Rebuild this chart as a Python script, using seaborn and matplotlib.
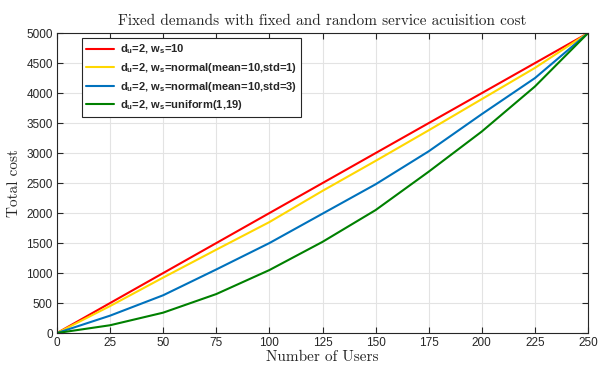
import seaborn as sns
import matplotlib.pyplot as plt
import pandas as pd

# values
users = [0, 25, 50, 75, 100, 125, 150, 175, 200, 225, 250]
cost_fixed = [0, 500, 1000, 1500, 2000, 2500, 3000, 3500, 4000, 4500, 5000]
cost_normal_std1 = [0, 450, 925, 1390, 1850, 2370, 2870, 3380, 3900, 4420, 5000]
cost_normal_std3 = [0, 290, 630, 1060, 1500, 1990, 2480, 3030, 3650, 4250, 5000]
cost_uniform = [0, 130, 340, 650, 1050, 1520, 2050, 2690, 3360, 4110, 5000]

labels = [
    'd$_u$=2, w$_s$=10',
    'd$_u$=2, w$_s$=normal(mean=10,std=1)',
    'd$_u$=2, w$_s$=normal(mean=10,std=3)',
    'd$_u$=2, w$_s$=uniform(1,19)',
]
colors = ['#FF0000', '#FFD700', '#0072BD', '#008000']

sns.set_style('whitegrid')
plt.rcParams['font.family'] = ['Liberation Sans', 'DejaVu Sans']
plt.rcParams['mathtext.fontset'] = 'custom'
plt.rcParams['mathtext.rm'] = 'Liberation Sans:bold'
plt.rcParams['mathtext.it'] = 'Liberation Sans:bold'
plt.rcParams['mathtext.bf'] = 'Liberation Sans:bold'
plt.rcParams['mathtext.default'] = 'bf'

rows = []
for lab, vals in zip(labels, [cost_fixed, cost_normal_std1, cost_normal_std3, cost_uniform]):
    for u, c in zip(users, vals):
        rows.append({'users': u, 'cost': c, 'series': lab})
df = pd.DataFrame(rows)

fig = plt.figure(figsize=(5.98, 3.68), dpi=100)
ax = fig.add_axes([0.0953, 0.095, 0.888, 0.815])

sns.lineplot(data=df, x='users', y='cost', hue='series', hue_order=labels,
             palette=colors, linewidth=1.5, ax=ax)

ax.set_xlim(0, 250)
ax.set_ylim(0, 5000)
ax.set_xticks(range(0, 251, 25))
ax.set_yticks(range(0, 5001, 500))
ax.grid(True, color='#e3e3e3', linewidth=0.8)
for s in ax.spines.values():
    s.set_visible(True)
    s.set_color('#262626')
    s.set_linewidth(0.8)
ax.tick_params(direction='in', length=4, width=0.8, color='#262626',
               labelsize=8.5, labelcolor='#262626', top=True, right=True,
               bottom=True, left=True, pad=3)

ax.set_title('Fixed demands with fixed and random service acuisition cost',
             fontfamily='cmr10', fontsize=11, pad=6)
ax.set_xlabel('Number of Users', fontfamily='cmr10', fontsize=11, labelpad=1)
ax.set_ylabel('Total cost', fontfamily='cmr10', fontsize=11, labelpad=4)

leg = ax.legend(loc='upper left', bbox_to_anchor=(0.047, 0.983),
                borderaxespad=0, prop={'weight': 'bold', 'size': 8},
                frameon=True, fancybox=False, edgecolor='#262626',
                framealpha=1, handlelength=2.5, handletextpad=0.5,
                borderpad=0.4, labelspacing=0.42)
leg.get_frame().set_linewidth(0.8)

fig.savefig('out.png', dpi=100)
